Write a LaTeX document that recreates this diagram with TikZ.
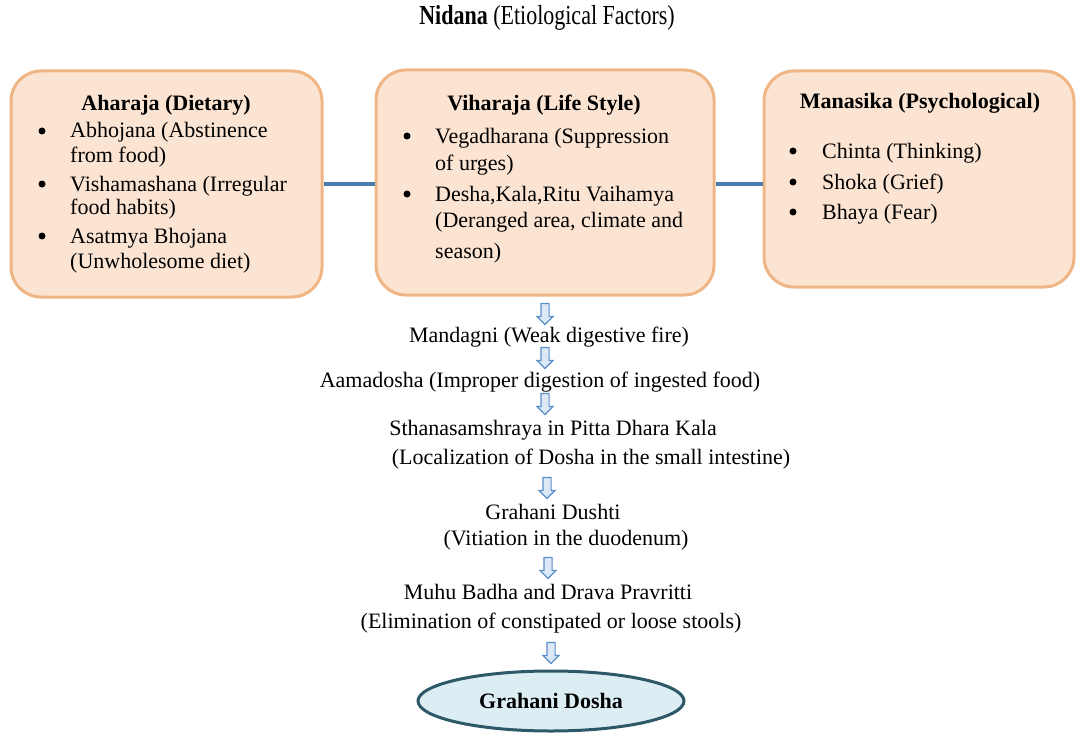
\documentclass[tikz,border=0pt]{standalone}
\usepackage{fontspec}
\usepackage{graphicx}
\setmainfont{Liberation Serif}
\usetikzlibrary{shapes.geometric,shapes.arrows}
\definecolor{boxfill}{HTML}{FCE4D3}
\definecolor{boxedge}{HTML}{EFB585}
\definecolor{linkblue}{HTML}{4A7BB0}
\definecolor{arrowedge}{HTML}{5B8FC9}
\definecolor{arrowfill}{HTML}{DCE8F5}
\definecolor{ellfill}{HTML}{DCEEF4}
\definecolor{elledge}{HTML}{2D5868}
\begin{document}
\begin{tikzpicture}[x=1pt,y=-1pt,
  every node/.style={inner sep=0pt, font=\fontsize{22}{26}\selectfont},
  box/.style={draw=boxedge, line width=3pt, fill=boxfill, rounded corners=30pt},
  head/.style={anchor=base, font=\fontsize{22}{26}\selectfont\bfseries},
  item/.style={anchor=base west},
  dot/.style={circle, fill=black, minimum size=7pt, yshift=7pt},
  flow/.style={anchor=base},
  link/.style={draw=linkblue, line width=3.2pt},
  down/.style={single arrow, rotate=-90, draw=arrowedge, line width=1.2pt, fill=arrowfill,
    minimum height=21pt, minimum width=15pt, single arrow head extend=4pt, inner sep=3.5pt},
  endbox/.style={ellipse, draw=elledge, line width=3pt, fill=ellfill,
    minimum width=266pt, minimum height=60pt, font=\fontsize{22}{26}\selectfont\bfseries}
]
\useasboundingbox (0,0) rectangle (1076,733);

% title
\node[anchor=base] (title) at (547,25) {\scalebox{1}[1.25]{\textbf{Nidana} (Etiological Factors)}};

% boxes
\node[box, minimum width=311pt, minimum height=226pt] (b1) at (166.5,184) {};
\node[box, minimum width=338pt, minimum height=225pt] (b2) at (545,182.5) {};
\node[box, minimum width=310pt, minimum height=216pt] (b3) at (919,179) {};

\draw[link] (b1.east) -- (b1.east -| b2.west);
\draw[link] (b2.east |- b1.east) -- (b2.east |- b1.east -| b3.west);

% box 1
\node[head] (b1h) at (166,111) {Aharaja (Dietary)};
\node[dot] (b1d1) at (42,138) {};
\node[item] (b1l1) at (70,138) {Abhojana (Abstinence};
\node[item] (b1l2) at (70,163) {from food)};
\node[dot] (b1d2) at (42,191) {};
\node[item] (b1l3) at (70,191) {Vishamashana (Irregular};
\node[item] (b1l4) at (70,214) {food habits)};
\node[dot] (b1d3) at (42,243) {};
\node[item] (b1l5) at (70,243) {Asatmya Bhojana};
\node[item] (b1l6) at (70,268) {(Unwholesome diet)};

% box 2
\node[head] (b2h) at (544,111) {Viharaja (Life Style)};
\node[dot] (b2d1) at (407,143) {};
\node[item] (b2l1) at (435,143) {Vegadharana (Suppression};
\node[item] (b2l2) at (435,171) {of urges)};
\node[dot] (b2d2) at (407,201) {};
\node[item] (b2l3) at (435,201) {Desha,Kala,Ritu Vaihamya};
\node[item] (b2l4) at (435,227) {(Deranged area, climate and};
\node[item] (b2l5) at (435,258) {season)};

% box 3
\node[head] (b3h) at (920,109) {Manasika (Psychological)};
\node[dot] (b3d1) at (793,158) {};
\node[item] (b3l1) at (822,158) {Chinta (Thinking)};
\node[dot] (b3d2) at (793,189) {};
\node[item] (b3l2) at (822,189) {Shoka (Grief)};
\node[dot] (b3d3) at (793,219) {};
\node[item] (b3l3) at (822,219) {Bhaya (Fear)};

% flow
\node[down] (a1) at (545,312) {};
\node[flow] (f1) at (549,342) {Mandagni (Weak digestive fire)};
\node[down] (a2) at (545,356) {};
\node[flow] (f2) at (540,387) {Aamadosha (Improper digestion of ingested food)};
\node[down] (a3) at (545,402) {};
\node[flow] (f3) at (553,435) {Sthanasamshraya in Pitta Dhara Kala};
\node[flow] (f4) at (591,464) {(Localization of Dosha in the small intestine)};
\node[down] (a4) at (547,486) {};
\node[flow] (f5) at (553,519) {Grahani Dushti};
\node[flow] (f6) at (566,545) {(Vitiation in the duodenum)};
\node[down] (a5) at (548,566) {};
\node[flow] (f7) at (548,599) {Muhu Badha and Drava Pravritti};
\node[flow] (f8) at (551,628) {(Elimination of constipated or loose stools)};
\node[down] (a6) at (551,651) {};
\node[endbox] (end) at (551,701) {Grahani Dosha};
\end{tikzpicture}
\end{document}
